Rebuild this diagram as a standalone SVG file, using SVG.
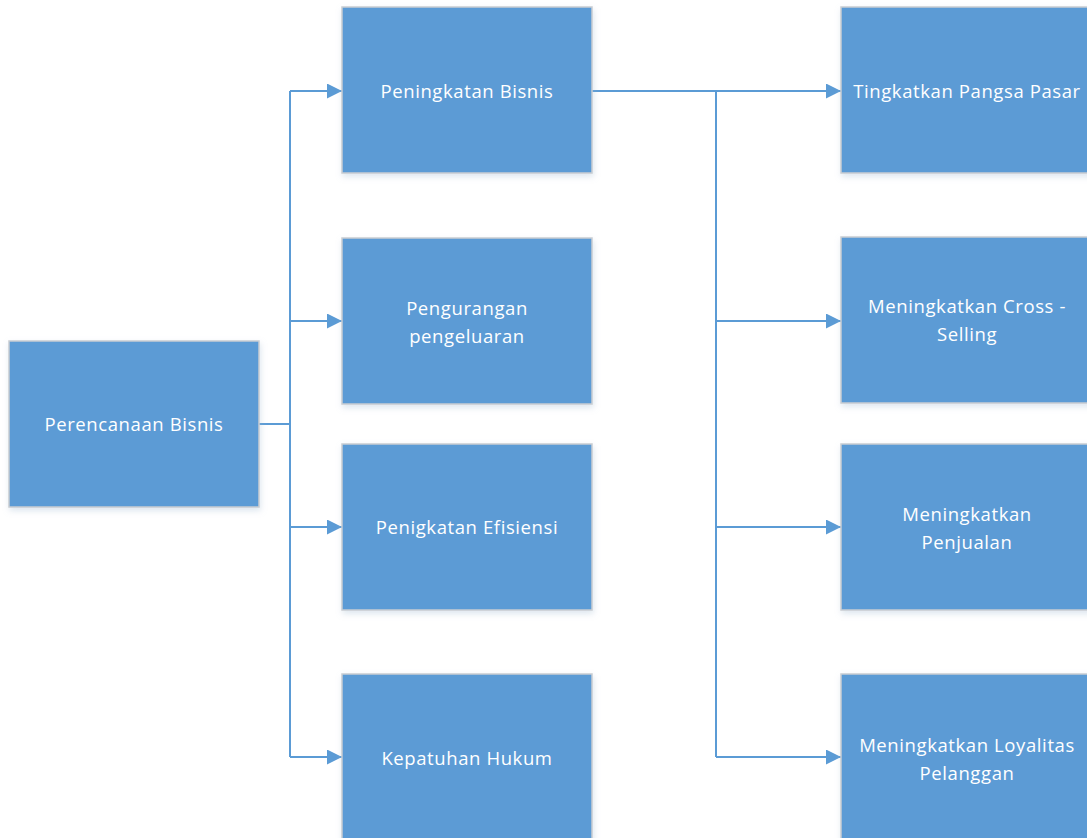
<svg xmlns="http://www.w3.org/2000/svg" width="1087" height="838" viewBox="0 0 1087 838">
<defs>
<style>
.box{fill:#5B9BD5;stroke:#C9CDD2;stroke-width:1.5}
.lbl{fill:#FFFFFF;font-family:"Open Sans","Liberation Sans",sans-serif;font-size:18.5px;text-anchor:middle;letter-spacing:0.6px}
.ln{fill:none;stroke:#5B9BD5;stroke-width:2}
</style>
<marker id="ah" viewBox="0 0 15 15" refX="15" refY="7.5" markerWidth="15" markerHeight="15" markerUnits="userSpaceOnUse" orient="auto">
<path d="M0,0 L15,7.5 L0,15 Z" fill="#5B9BD5"/>
</marker>
<filter id="sh" x="-10%" y="-10%" width="120%" height="120%">
<feDropShadow dx="1" dy="3" stdDeviation="3" flood-color="#9DB7D0" flood-opacity="0.35"/>
</filter>
</defs>
<rect width="1087" height="838" fill="#FFFFFF"/>
<g id="connectors">
<path class="ln" d="M259,424 H290"/>
<path class="ln" d="M290,91 V757"/>
<path class="ln" d="M290,91 H342" marker-end="url(#ah)"/>
<path class="ln" d="M290,321 H342" marker-end="url(#ah)"/>
<path class="ln" d="M290,527 H342" marker-end="url(#ah)"/>
<path class="ln" d="M290,757 H342" marker-end="url(#ah)"/>
<path class="ln" d="M592,91 H841" marker-end="url(#ah)"/>
<path class="ln" d="M716,91 V757"/>
<path class="ln" d="M716,321 H841" marker-end="url(#ah)"/>
<path class="ln" d="M716,527 H841" marker-end="url(#ah)"/>
<path class="ln" d="M716,757 H841" marker-end="url(#ah)"/>
</g>
<g id="perencanaan">
<rect class="box" x="9" y="341" width="250" height="166" filter="url(#sh)"/>
<text class="lbl" x="134" y="431">Perencanaan Bisnis</text>
</g>
<g id="peningkatan-bisnis">
<rect class="box" x="342" y="7" width="250" height="166" filter="url(#sh)"/>
<text class="lbl" x="467" y="98">Peningkatan Bisnis</text>
</g>
<g id="pengurangan">
<rect class="box" x="342" y="238" width="250" height="166" filter="url(#sh)"/>
<text class="lbl" x="467" y="315">Pengurangan</text>
<text class="lbl" x="467" y="343">pengeluaran</text>
</g>
<g id="efisiensi">
<rect class="box" x="342" y="444" width="250" height="166" filter="url(#sh)"/>
<text class="lbl" x="467" y="534">Penigkatan Efisiensi</text>
</g>
<g id="kepatuhan">
<rect class="box" x="342" y="674" width="250" height="170" filter="url(#sh)"/>
<text class="lbl" x="467" y="765">Kepatuhan Hukum</text>
</g>
<g id="pangsa">
<rect class="box" x="841" y="7" width="252" height="166" filter="url(#sh)"/>
<text class="lbl" x="967" y="98">Tingkatkan Pangsa Pasar</text>
</g>
<g id="cross">
<rect class="box" x="841" y="237" width="252" height="166" filter="url(#sh)"/>
<text class="lbl" x="967" y="313">Meningkatkan Cross -</text>
<text class="lbl" x="967" y="341">Selling</text>
</g>
<g id="penjualan">
<rect class="box" x="841" y="444" width="252" height="166" filter="url(#sh)"/>
<text class="lbl" x="967" y="521">Meningkatkan</text>
<text class="lbl" x="967" y="549">Penjualan</text>
</g>
<g id="loyalitas">
<rect class="box" x="841" y="674" width="252" height="170" filter="url(#sh)"/>
<text class="lbl" x="967" y="752">Meningkatkan Loyalitas</text>
<text class="lbl" x="967" y="780">Pelanggan</text>
</g>
</svg>
